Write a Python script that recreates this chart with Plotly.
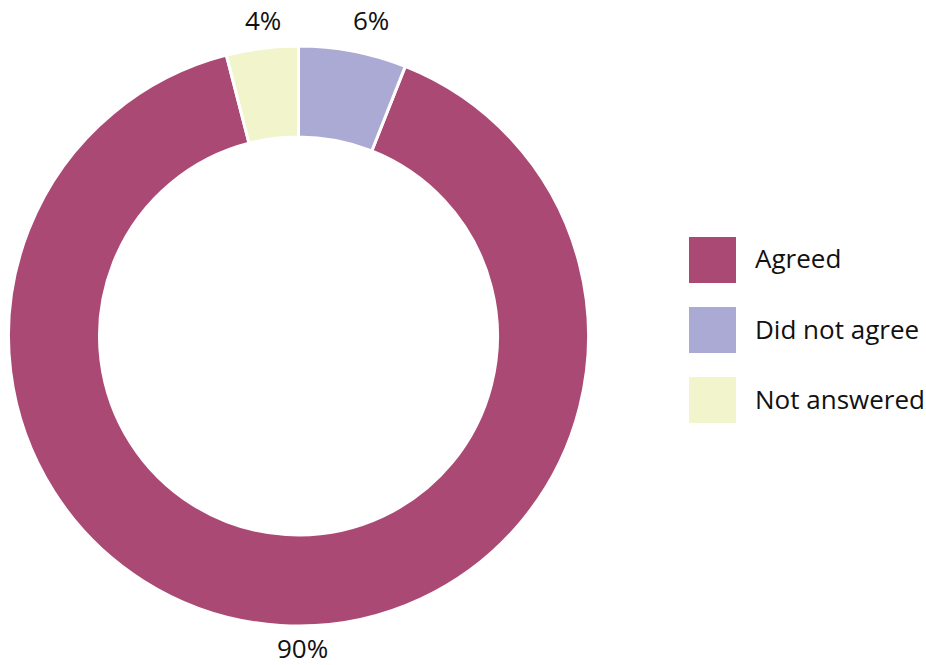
import math
import plotly.graph_objects as go

# Survey responses
categories = ["Agreed", "Did not agree", "Not answered"]
shares = [90, 6, 4]
colors = ["#AB4975", "#AAAAD4", "#F2F5CC"]

W, H = 926, 665
FONT = "Open Sans"

# Donut geometry in pixels
cx, cy, r_out, r_in = 298.5, 336, 290, 199

fig = go.Figure(
    go.Pie(
        labels=categories,
        values=shares,
        sort=False,
        direction="counterclockwise",
        rotation=360 * shares[1] / sum(shares),
        hole=r_in / r_out,
        marker=dict(colors=colors, line=dict(color="white", width=3)),
        textinfo="none",
        domain=dict(
            x=[(cx - r_out) / W, (cx + r_out) / W],
            y=[1 - (cy + r_out) / H, 1 - (cy - r_out) / H],
        ),
        showlegend=False,
        hoverinfo="label+percent",
    )
)

# Percentage labels set just outside the ring, at a chosen angle
# (degrees clockwise from 12 o'clock) and distance from the centre
label_angle = {"Agreed": 179.2, "Did not agree": 12.9, "Not answered": -6.4}
label_dist = {"Agreed": 312, "Did not agree": 324, "Not answered": 318}
total = sum(shares)

annotations = []
for name, v in zip(categories, shares):
    a = math.radians(label_angle[name])
    d = label_dist[name]
    px = cx + d * math.sin(a)
    py = cy - d * math.cos(a)
    annotations.append(
        dict(
            text=f"{round(100 * v / total)}%", xref="paper", yref="paper",
            x=px / W, y=1 - py / H, xanchor="center", yanchor="middle",
            showarrow=False,
            font=dict(family=FONT, size=26, color="#111111"),
        )
    )

# Legend drawn as swatches with labels
shapes = []
x0, x1 = 689, 736
top = 237
step = 70
size = 46
for i, (name, col) in enumerate(zip(categories, colors)):
    y0 = top + i * step
    shapes.append(
        dict(
            type="rect", xref="paper", yref="paper",
            x0=x0 / W, x1=x1 / W,
            y0=1 - (y0 + size) / H, y1=1 - y0 / H,
            fillcolor=col, line=dict(width=0),
        )
    )
    annotations.append(
        dict(
            text=name, xref="paper", yref="paper",
            x=753 / W, y=1 - (y0 + size / 2 - 1.5) / H,
            xanchor="left", yanchor="middle", showarrow=False,
            font=dict(family=FONT, size=26, color="#111111"),
        )
    )

fig.update_layout(
    width=W, height=H,
    margin=dict(l=0, r=0, t=0, b=0),
    paper_bgcolor="white", plot_bgcolor="white",
    shapes=shapes, annotations=annotations,
)

fig.write_html("out.html")
